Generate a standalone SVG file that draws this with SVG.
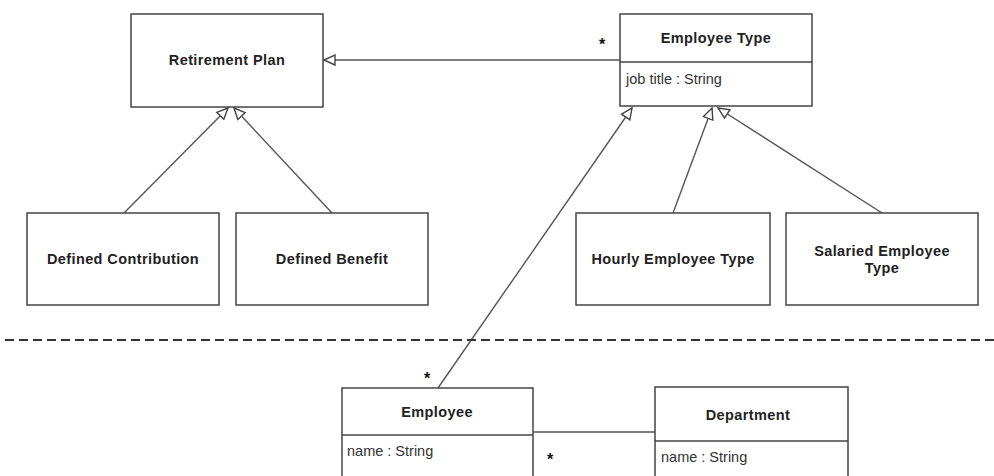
<svg xmlns="http://www.w3.org/2000/svg" width="994" height="476" viewBox="0 0 994 476">
<style>
.box{fill:#fff;stroke:#444;stroke-width:1.5}
.div{stroke:#444;stroke-width:1.5}
.t{font-family:"Liberation Sans",Arial,sans-serif;font-size:14.5px;font-weight:bold;fill:#222;text-anchor:middle;letter-spacing:0.4px}
.a{font-family:"Liberation Sans",Arial,sans-serif;font-size:14.5px;fill:#333}
.s{font-family:"Liberation Sans",Arial,sans-serif;font-size:16px;font-weight:bold;fill:#111;text-anchor:middle}
.c{fill:none;stroke:#555;stroke-width:1.4}
</style>
<defs>
<marker id="gen" markerUnits="userSpaceOnUse" markerWidth="14" markerHeight="12" refX="12" refY="6" orient="auto">
<path d="M1,1 L12,6 L1,11 Z" fill="#fff" stroke="#444" stroke-width="1.4"/>
</marker>
</defs>
<rect width="994" height="476" fill="#fff"/>
<g id="connectors">
<line class="c" x1="620" y1="60" x2="324" y2="60" marker-end="url(#gen)"/>
<line class="c" x1="124" y1="213" x2="228" y2="108" marker-end="url(#gen)"/>
<line class="c" x1="332" y1="213" x2="234" y2="108" marker-end="url(#gen)"/>
<line class="c" x1="438" y1="388" x2="632" y2="108" marker-end="url(#gen)"/>
<line class="c" x1="673" y1="213" x2="712" y2="108" marker-end="url(#gen)"/>
<line class="c" x1="882" y1="213" x2="718" y2="108" marker-end="url(#gen)"/>
<line class="c" x1="533" y1="432" x2="655" y2="432"/>
<line x1="5" y1="340" x2="994" y2="340" stroke="#333" stroke-width="2" stroke-dasharray="9,5"/>
<text class="s" x="602" y="50">*</text>
<text class="s" x="427" y="384">*</text>
<text class="s" x="550" y="465">*</text>
</g>
<g id="retirement-plan">
<rect class="box" x="131" y="14" width="192" height="93"/>
<text class="t" x="227" y="65">Retirement Plan</text>
</g>
<g id="employee-type">
<rect class="box" x="620" y="14" width="192" height="92"/>
<line class="div" x1="620" y1="62" x2="812" y2="62"/>
<text class="t" x="716" y="43">Employee Type</text>
<text class="a" x="626" y="84">job title : String</text>
</g>
<g id="defined-contribution">
<rect class="box" x="27" y="213" width="192" height="92"/>
<text class="t" x="123" y="264">Defined Contribution</text>
</g>
<g id="defined-benefit">
<rect class="box" x="236" y="213" width="192" height="92"/>
<text class="t" x="332" y="264">Defined Benefit</text>
</g>
<g id="hourly-employee-type">
<rect class="box" x="576" y="213" width="194" height="92"/>
<text class="t" x="673" y="264">Hourly Employee Type</text>
</g>
<g id="salaried-employee-type">
<rect class="box" x="786" y="213" width="192" height="92"/>
<text class="t" x="882" y="256">Salaried Employee</text>
<text class="t" x="882" y="273">Type</text>
</g>
<g id="employee">
<rect class="box" x="342" y="388" width="191" height="110"/>
<line class="div" x1="342" y1="435" x2="533" y2="435"/>
<text class="t" x="437" y="417">Employee</text>
<text class="a" x="347" y="456">name : String</text>
</g>
<g id="department">
<rect class="box" x="655" y="387" width="193" height="110"/>
<line class="div" x1="655" y1="441" x2="848" y2="441"/>
<text class="t" x="748" y="420">Department</text>
<text class="a" x="661" y="462">name : String</text>
</g>
</svg>
